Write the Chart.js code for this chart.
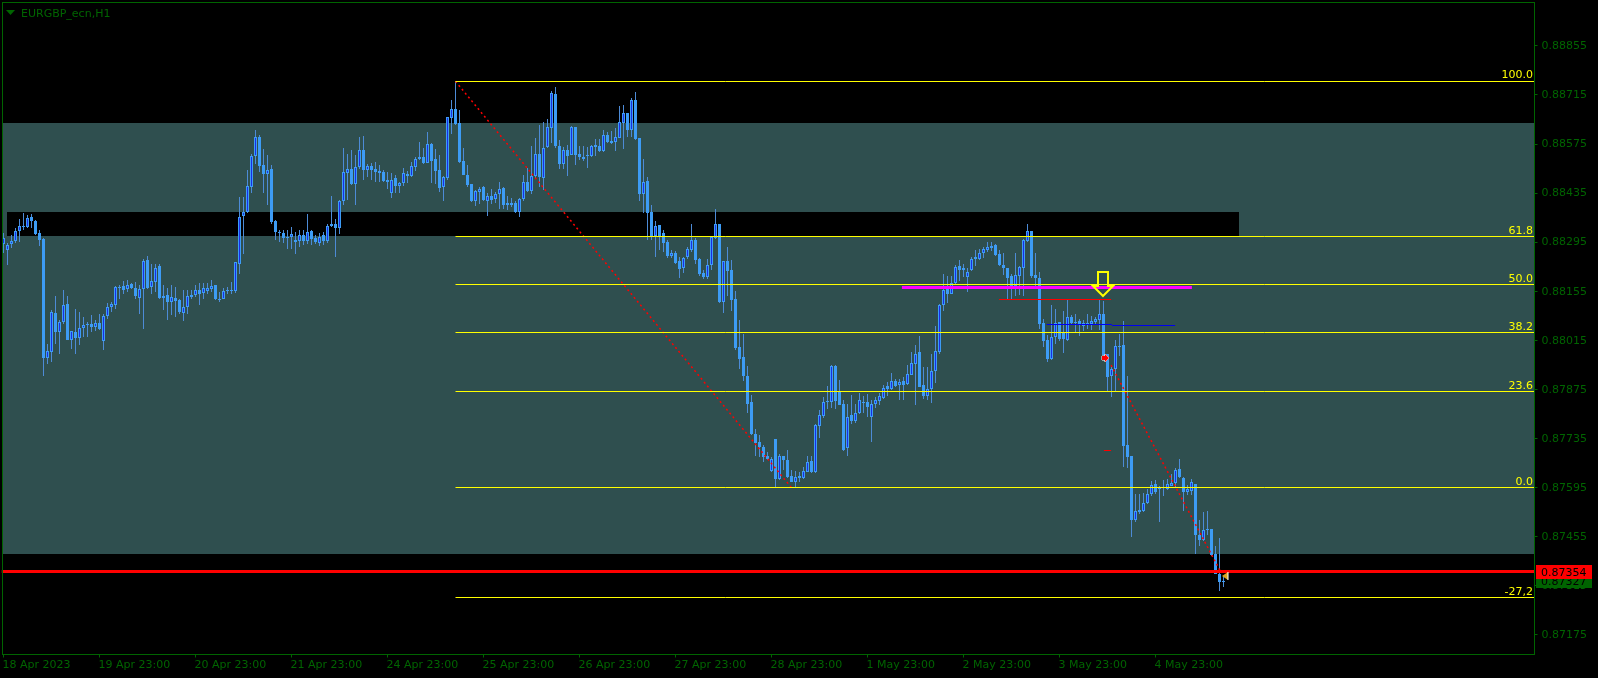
<!DOCTYPE html>
<html>
<head>
<meta charset="utf-8">
<style>html,body{margin:0;padding:0;background:#000;overflow:hidden}canvas{display:block}</style>
<script src="https://cdn.jsdelivr.net/npm/chart.js@4"></script>
</head>
<body>
<canvas id="c" width="1598" height="678"></canvas>
<script>
// prices in 0.00001 units
const opens = [
88291,88272,88289,88299,88327,88341,88337,88366,88354,88320,
88304,87965,87982,88094,88039,88067,88118,88016,88038,88022,
88049,88061,88061,88053,88063,88013,88084,88110,88116,88165,
88169,88160,88175,88165,88136,88160,88243,88167,88182,88226,
88140,88143,88124,88135,88129,88094,88111,88139,88144,88158,
88150,88156,88162,88172,88132,88133,88156,88156,88155,88233,
88370,88382,88453,88542,88595,88514,88490,88505,88354,88323,
88322,88311,88310,88302,88297,88314,88299,88326,88306,88293,
88315,88299,88342,88348,88336,88411,88493,88505,88462,88510,
88557,88501,88511,88503,88497,88494,88467,88434,88478,88456,
88465,88489,88485,88510,88531,88537,88522,88575,88531,88500,
88451,88479,88650,88674,88634,88526,88486,88460,88413,88439,
88452,88411,88426,88417,88431,88449,88406,88406,88406,88381,
88419,88467,88442,88484,88548,88479,88566,88622,88718,88569,
88519,88558,88544,88624,88547,88533,88541,88542,88572,88569,
88555,88601,88584,88582,88593,88636,88664,88616,88701,88592,
88433,88469,88381,88312,88344,88320,88295,88256,88264,88241,
88220,88253,88273,88301,88247,88206,88196,88231,88308,88348,
88124,88240,88215,88132,87995,87966,87914,87838,87748,87724,
87711,87686,87641,87732,87619,87686,87674,87627,87610,87627,
87622,87639,87669,87638,87770,87799,87839,87839,87941,87867,
87832,87706,87801,87785,87807,87840,87838,87796,87833,87842,
87851,87884,87876,87898,87886,87898,87890,87917,87947,87981,
87886,87856,87876,87927,87982,88116,88163,88147,88177,88226,
88216,88196,88216,88252,88246,88265,88273,88278,88286,88260,
88231,88220,88197,88170,88198,88222,88299,88328,88200,88194,
88063,88015,87961,88024,88066,88035,88015,88080,88068,88069,
88063,88063,88061,88066,88074,88089,87975,87913,87933,87996,
88001,87715,87684,87502,87525,87528,87550,87575,87604,87594,
87594,87590,87600,87608,87647,87623,87583,87585,87606,87458,
87446,87475,87475,87404,87349,87326];
const highs = [
88320,88293,88315,88334,88361,88377,88372,88374,88358,88329,
88306,88005,88101,88141,88074,88158,88141,88040,88103,88096,
88080,88067,88086,88074,88091,88089,88120,88124,88169,88172,
88184,88186,88177,88182,88172,88248,88255,88234,88234,88232,
88172,88163,88172,88167,88134,88158,88158,88158,88172,88179,
88179,88179,88188,88172,88153,88163,88167,88182,88239,88424,
88424,88500,88548,88615,88600,88562,88543,88515,88358,88331,
88329,88331,88337,88324,88331,88329,88375,88331,88315,88320,
88324,88346,88428,88362,88415,88565,88548,88558,88543,88596,
88598,88519,88522,88524,88515,88500,88496,88491,88486,88467,
88508,88498,88525,88537,88580,88563,88608,88579,88560,88543,
88484,88653,88701,88754,88672,88563,88514,88461,88444,88453,
88455,88434,88446,88439,88466,88453,88427,88420,88413,88420,
88488,88507,88569,88591,88628,88638,88646,88726,88737,88587,
88566,88572,88626,88625,88569,88569,88566,88572,88588,88590,
88615,88610,88613,88620,88684,88686,88665,88706,88723,88592,
88532,88482,88401,88354,88344,88329,88301,88272,88269,88253,
88253,88282,88347,88306,88249,88215,88248,88310,88391,88348,
88240,88281,88245,88155,88072,88034,87941,87858,87761,87744,
87715,87696,87682,87732,87691,87686,87701,87646,87642,87639,
87653,87684,87684,87775,87815,87853,87884,87944,87944,87901,
87844,87832,87858,87832,87863,87855,87861,87844,87853,87865,
87887,87896,87922,87905,87905,87910,87944,87982,88001,88026,
87939,87939,87977,88055,88118,88203,88198,88198,88229,88245,
88232,88220,88253,88272,88274,88282,88296,88295,88291,88272,
88263,88220,88204,88263,88226,88303,88348,88328,88265,88209,
88077,88029,88115,88103,88067,88098,88134,88086,88089,88077,
88074,88089,88083,88082,88134,88127,87975,87944,88015,88034,
88069,87912,87684,87577,87577,87580,87591,87612,87617,87598,
87617,87620,87632,87651,87677,87625,87601,87620,87606,87503,
87525,87527,87475,87429,87451,87341];
const lows = [
88264,88230,88277,88293,88296,88329,88334,88334,88314,88283,
87913,87946,87953,88005,87977,88061,88015,87991,87975,88001,
88023,88024,88039,88042,88043,87986,88077,88096,88105,88134,
88146,88153,88160,88134,88091,88046,88160,88148,88153,88134,
88101,88072,88086,88082,88091,88070,88091,88134,88139,88115,
88134,88146,88153,88131,88124,88132,88148,88148,88150,88205,
88262,88377,88436,88519,88494,88434,88401,88346,88302,88296,
88293,88276,88274,88261,88282,88286,88289,88286,88291,88283,
88286,88293,88339,88253,88318,88401,88415,88458,88401,88505,
88472,88481,88472,88467,88467,88467,88448,88420,88434,88434,
88455,88463,88482,88498,88529,88518,88520,88465,88461,88439,
88413,88472,88604,88629,88522,88487,88451,88410,88399,88404,
88413,88369,88403,88407,88391,88389,88387,88394,88379,88368,
88413,88439,88432,88477,88453,88444,88563,88577,88564,88505,
88504,88484,88544,88515,88529,88527,88507,88539,88541,88552,
88552,88577,88575,88556,88591,88561,88594,88596,88586,88413,
88377,88301,88301,88253,88272,88268,88249,88251,88234,88192,
88206,88248,88268,88232,88198,88191,88191,88215,88305,88120,
88093,88141,88099,87986,87934,87899,87807,87744,87684,87682,
87667,87674,87639,87594,87615,87644,87623,87609,87594,87610,
87620,87639,87636,87636,87737,87794,87820,87823,87820,87829,
87699,87684,87775,87779,87804,87808,87796,87725,87823,87829,
87848,87855,87872,87882,87844,87844,87886,87915,87829,87882,
87846,87844,87836,87893,87977,88099,88120,88147,88175,88183,
88196,88153,88213,88226,88243,88251,88267,88270,88255,88226,
88201,88134,88131,88141,88143,88141,88296,88194,88165,88048,
87996,87953,87958,88004,88013,87979,88013,88061,88039,88026,
88042,88048,88045,88058,88044,87972,87870,87853,87870,87969,
87653,87650,87453,87496,87520,87525,87547,87569,87575,87496,
87569,87588,87598,87596,87622,87529,87572,87572,87404,87429,
87442,87458,87398,87347,87299,87312];
const closes = [
88308,88288,88297,88328,88342,88342,88365,88356,88318,88301,
87964,87983,88095,88039,88068,88117,88015,88040,88021,88051,
88059,88059,88053,88063,88046,88085,88111,88118,88166,88166,
88158,88174,88163,88141,88162,88242,88165,88183,88220,88136,
88136,88124,88137,88126,88095,88111,88140,88145,88157,88146,
88163,88163,88170,88133,88134,88156,88158,88158,88237,88368,
88382,88455,88542,88594,88513,88490,88502,88353,88323,88321,
88306,88308,88317,88295,88314,88299,88324,88303,88295,88310,
88299,88342,88348,88336,88411,88496,88505,88461,88510,88557,
88500,88513,88500,88496,88493,88469,88472,88471,88456,88463,
88491,88485,88511,88531,88537,88522,88574,88527,88499,88450,
88480,88651,88674,88632,88524,88487,88458,88412,88440,88447,
88415,88426,88415,88431,88448,88402,88401,88401,88381,88417,
88468,88442,88483,88548,88481,88565,88623,88720,88569,88518,
88557,88541,88625,88544,88538,88539,88543,88568,88566,88555,
88600,88581,88578,88594,88637,88665,88615,88700,88589,88432,
88468,88379,88310,88340,88310,88293,88256,88263,88236,88218,
88250,88274,88300,88245,88205,88195,88231,88310,88348,88123,
88240,88213,88129,87992,87961,87912,87832,87746,87722,87709,
87681,87675,87677,87618,87686,87673,87625,87611,87626,87622,
87643,87668,87639,87774,87803,87840,87841,87941,87842,87829,
87703,87797,87784,87808,87843,87836,87825,87834,87843,87855,
87880,87876,87900,87884,87895,87886,87920,87949,87977,87882,
87856,87877,87928,87985,88117,88157,88148,88177,88225,88215,
88222,88211,88247,88246,88265,88274,88282,88285,88258,88229,
88221,88193,88170,88200,88223,88300,88328,88198,88193,88061,
88012,87961,88024,88065,88018,88018,88080,88064,88066,88059,
88057,88061,88071,88075,88090,87972,87910,87934,87998,87998,
87713,87682,87502,87528,87531,87551,87575,87603,87582,87591,
87596,87604,87608,87646,87624,87582,87589,87609,87458,87444,
87474,87473,87401,87348,87324,87327];

const yTickValues = [88855,88715,88575,88435,88295,88155,88015,87875,87735,87595,87455,87315,87175];
const xTickBars = [0,24,48,72,96,120,144,168,192,216,240,264,288];
const xTickLabels = ["18 Apr 2023","19 Apr 23:00","20 Apr 23:00","21 Apr 23:00","24 Apr 23:00","25 Apr 23:00","26 Apr 23:00","27 Apr 23:00","28 Apr 23:00","1 May 23:00","2 May 23:00","3 May 23:00","4 May 23:00"];
const fibLabels = ["100.0","61.8","50.0","38.2","23.6","0.0","-27,2"];
const fibPrices = [88754,88311,88174,88037,87868,87594,87280];
const fibStartBar = 113;
const zoneHigh = 88635, zoneLow = 87404;
const bandHigh = 88381, bandLow = 88312;
const bandBars = [0.875, 308.9];
const bidPrice = 87354, askPrice = 87327;
const trendA = [[113,88754],[197,87594]];
const trendB = [[276.9,87944],[304.1,87358]];
const magentaLine = [[224.6,88165],[297.1,88165]];
const redLine = [[248.9,88131],[276.9,88131]];
const blueLineA = [[260.8,88060],[277.1,88060]];
const blueLineB = [[277.1,88057],[292.9,88057]];
const redDash = [[275.1,87700],[276.9,87700]];
const arrowDown = [274.9,88142];
const arrowRight = [275.4,87963];
const arrowLeft = [305.3,87342];

const XMIN=-0.5, XMAX=382.75, YMIN=87118, YMAX=88979;
const GREEN='#006400', FONT='11px "DejaVu Sans"';
const px = p=>p/1e5;
const pair = a=>a.map(d=>({x:d[0],y:px(d[1])}));
const line = (data,color,width,extra)=>Object.assign({type:'line',data:pair(data),borderColor:color,borderWidth:width,pointRadius:0,tension:0,order:0,spanGaps:true},extra||{});
const noPad = s=>{s.paddingTop=0;s.paddingBottom=0;s.paddingLeft=0;s.paddingRight=0;};

const fibDatasets = fibPrices.map(p=>line([[fibStartBar,p],[XMAX,p]],'#ffff00',1));

const backdrop = {
  id:'backdrop',
  afterDatasetsUpdate(chart){
    chart.getSortedVisibleDatasetMetas().forEach(m=>{
      if(m.type==='line'){ if(Math.abs(m.data[0].y-m.data[1].y)<1) m.data.forEach(p=>{ p.y=Math.floor(p.y)+.5; }); }
      else m.data.forEach(b=>{ const a=Math.round(b.y),c=Math.round(b.base); b.y=Math.min(a,c); b.base=Math.max(a,c); if(b.base===b.y) b.base=b.y+1; });
    });
  },
  beforeDatasetsDraw(chart){
    const {ctx,scales:{x,y},chartArea:a}=chart;
    const Y=v=>Math.round(y.getPixelForValue(px(v)));
    ctx.save();
    ctx.fillStyle='#2f4f4f';
    ctx.fillRect(3,Y(zoneHigh),a.right-3,Y(zoneLow)-Y(zoneHigh));
    ctx.fillStyle='#000';
    const l=Math.round(x.getPixelForValue(bandBars[0])), r=Math.round(x.getPixelForValue(bandBars[1]));
    ctx.fillRect(l,Y(bandHigh),r-l,Y(bandLow)-Y(bandHigh));
    ctx.restore();
  },
  afterDatasetsDraw(chart){
    const {ctx,scales:{x,y},chartArea:a}=chart;
    const X=v=>Math.round(x.getPixelForValue(v)), Y=v=>y.getPixelForValue(px(v));
    ctx.save();
    // fib labels
    ctx.font=FONT; ctx.fillStyle='#ffff00'; ctx.textAlign='right'; ctx.textBaseline='alphabetic';
    fibPrices.forEach((p,i)=>ctx.fillText(fibLabels[i],1533,Math.round(Y(p))-3));
    // down arrow
    const ax=X(arrowDown[0])+.0, ay=Math.round(Y(arrowDown[1]));
    ctx.strokeStyle='#ffff00'; ctx.lineWidth=2; ctx.lineJoin='miter';
    ctx.beginPath();
    ctx.moveTo(ax,ay); ctx.lineTo(ax+10,ay-10); ctx.lineTo(ax+5,ay-10); ctx.lineTo(ax+5,ay-24); ctx.lineTo(ax-5,ay-24); ctx.lineTo(ax-5,ay-10); ctx.lineTo(ax-10,ay-10); ctx.closePath();
    ctx.stroke();
    // right arrow
    const rx=X(arrowRight[0]), ry=Math.round(Y(arrowRight[1]));
    ctx.beginPath();
    ctx.moveTo(rx+4,ry); ctx.lineTo(rx,ry-4); ctx.lineTo(rx,ry-2); ctx.lineTo(rx-3,ry-2); ctx.lineTo(rx-3,ry+2); ctx.lineTo(rx,ry+2); ctx.lineTo(rx,ry+4); ctx.closePath();
    ctx.fillStyle='#ff0000'; ctx.strokeStyle='#fff'; ctx.lineWidth=1; ctx.stroke(); ctx.fill();
    // left triangle
    const tx=X(arrowLeft[0]), ty=Math.round(Y(arrowLeft[1]));
    ctx.beginPath(); ctx.moveTo(tx-3,ty); ctx.lineTo(tx+3,ty-4); ctx.lineTo(tx+3,ty+4); ctx.closePath();
    ctx.fillStyle='#daa520'; ctx.fill(); ctx.strokeStyle='#fff'; ctx.beginPath(); ctx.moveTo(tx+3,ty-4); ctx.lineTo(tx+3,ty+4); ctx.stroke();
    ctx.restore();
  },
  afterDraw(chart){
    const {ctx,scales:{y},chartArea:a}=chart;
    ctx.save();
    // frame
    ctx.strokeStyle=GREEN; ctx.lineWidth=1;
    ctx.strokeRect(2.5,2.5,1532,652);
    // title
    ctx.fillStyle=GREEN;
    ctx.beginPath(); ctx.moveTo(6,10); ctx.lineTo(15,10); ctx.lineTo(10.5,15); ctx.closePath(); ctx.fill();
    ctx.font=FONT; ctx.textAlign='left'; ctx.textBaseline='alphabetic';
    ctx.fillText('EURGBP_ecn,H1',21,17);
    // ask box
    ctx.fillStyle=GREEN; ctx.fillRect(1536,579,56,9);
    ctx.save(); ctx.beginPath(); ctx.rect(1536,579,56,9); ctx.clip();
    ctx.fillStyle='#000'; ctx.fillText((askPrice/1e5).toFixed(5),1541,585); ctx.restore();
    // bid box
    ctx.fillStyle='#ff0000'; ctx.fillRect(1536,565,56,14);
    ctx.fillStyle='#000'; ctx.fillText((bidPrice/1e5).toFixed(5),1541,576);
    ctx.restore();
  }
};

new Chart(document.getElementById('c'),{
  type:'bar',
  data:{datasets:[
    ...fibDatasets,
    line(magentaLine,'#ff00ff',3),
    line(redLine,'#ff0000',1),
    line(blueLineA,'#0000f0',1),
    line(blueLineB,'#0000f0',1),
    line(redDash,'#ff0000',1),
    line([[XMIN,bidPrice],[XMAX,bidPrice]],'#ff0000',3,{order:-1}),
    line(trendA,'#ff0000',1.5,{borderDash:[2,3]}),
    line(trendB,'#ff0000',1.5,{borderDash:[2,3]}),
    {label:'body',order:1,data:opens.map((o,i)=>({x:i,y:[px(o),px(closes[i])]})),
      barThickness:3,grouped:false,borderSkipped:false,borderWidth:1,inflateAmount:0,
      backgroundColor:c=>closes[c.dataIndex]>=opens[c.dataIndex]?'#1a2ee6':'#3d9cf5',
      borderColor:'#3d9cf5'},
    {label:'wick',order:2,data:highs.map((h,i)=>({x:i,y:[px(lows[i]),px(h)]})),
      barThickness:1,grouped:false,borderSkipped:false,borderWidth:0,inflateAmount:0,
      backgroundColor:'#4d8bd6'}
  ]},
  options:{
    responsive:false,animation:false,devicePixelRatio:1,
    layout:{padding:{left:1.5,top:2.5,right:0,bottom:0}},
    plugins:{legend:{display:false},tooltip:{enabled:false},title:{display:false}},
    scales:{
      x:{type:'linear',min:XMIN,max:XMAX,offset:false,
        afterBuildTicks(s){s.ticks=xTickBars.map(v=>({value:v}));},
        afterFit(s){s.height=23.5;noPad(s);},
        border:{display:false},
        grid:{offset:false,drawOnChartArea:false,drawTicks:true,tickLength:3,color:GREEN},
        ticks:{autoSkip:false,maxRotation:0,align:'start',padding:1,labelOffset:-1,color:GREEN,font:{family:'DejaVu Sans',size:11},
          callback(v){const i=xTickBars.indexOf(v);return i<0?'':xTickLabels[i];}}},
      y:{type:'linear',position:'right',min:px(YMIN),max:px(YMAX),
        afterBuildTicks(s){s.ticks=yTickValues.map(v=>({value:px(v)}));},
        afterFit(s){s.width=63.5;noPad(s);},
        border:{display:false},
        grid:{drawOnChartArea:false,drawTicks:true,tickLength:3,color:GREEN},
        ticks:{padding:4,labelOffset:0.5,color:GREEN,font:{family:'DejaVu Sans',size:11},callback(v){return v.toFixed(5);}}}
    }
  },
  plugins:[backdrop]
});
</script>
</body>
</html>
